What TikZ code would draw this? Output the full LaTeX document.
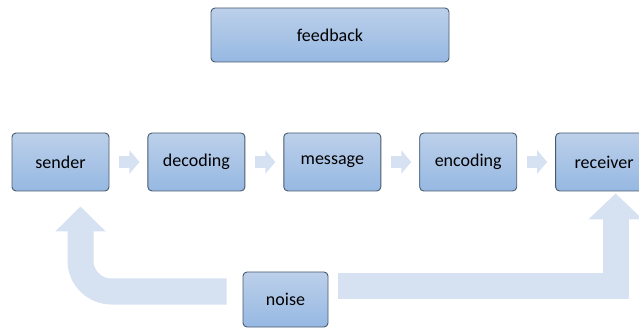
\documentclass[tikz,border=0pt]{standalone}
\usepackage{fontspec}
\setmainfont{Carlito}
\usetikzlibrary{positioning}
\usetikzlibrary{arrows.meta}
\usetikzlibrary{backgrounds}
\definecolor{boxtop}{HTML}{BCD0EA}
\definecolor{boxbottom}{HTML}{96B8E2}
\definecolor{boxline}{HTML}{4A5A6E}
\definecolor{flow}{HTML}{D6E2F2}
\tikzset{
  box/.style={draw=boxline, line width=0.9pt, rounded corners=4pt, top color=boxtop, bottom color=boxbottom, minimum width=97pt, minimum height=58pt, font=\fontsize{18}{20}\selectfont},
  smallarrow/.style={draw=flow, line width=12pt, shorten <=10pt, shorten >=8pt, -{Triangle[width=23pt,length=10pt]}},
  bigarrow/.style={draw=flow, line width=26pt, rounded corners=31pt}
}

\begin{document}
\begin{tikzpicture}[x=1pt,y=-1pt]
            \useasboundingbox (0,0) rectangle (639,328);
            \node[box] (sender) at (60.5,162) {sender};
            \node[box, right=38pt of sender] (decoding) {decoding};
            \node[box, right=38pt of decoding] (message) {message};
            \node[box, right=38pt of message] (encoding) {encoding};
            \node[box, right=38pt of encoding] (receiver) {receiver};
            \node[box, minimum width=238pt, minimum height=54pt] (feedback) at (330,35) {feedback};
            \node[box, minimum width=85pt, minimum height=55pt] (noise) at (285.5,299.5) {noise};
            
            \begin{scope}[on background layer]
            \draw[smallarrow] (sender) -- (decoding);
            \draw[smallarrow] (decoding) -- (message);
            \draw[smallarrow] (message) -- (encoding);
            \draw[smallarrow] (encoding) -- (receiver);
            
            \coordinate (noiseleft) at ([xshift=-16pt, yshift=8pt]noise.west);
            \coordinate (noiseright) at ([xshift=10pt, yshift=13.5pt]noise.east);
            \draw[bigarrow, -{Triangle[width=49pt,length=25pt]}] (noiseleft) -| ([xshift=20pt, yshift=-15pt]sender.south);
            \draw[bigarrow, rounded corners=0pt, -{Triangle[width=53pt,length=26pt]}] (noiseright) -| ([xshift=11.5pt, yshift=-2pt]receiver.south);
            \end{scope}
        \end{tikzpicture}
\end{document}
